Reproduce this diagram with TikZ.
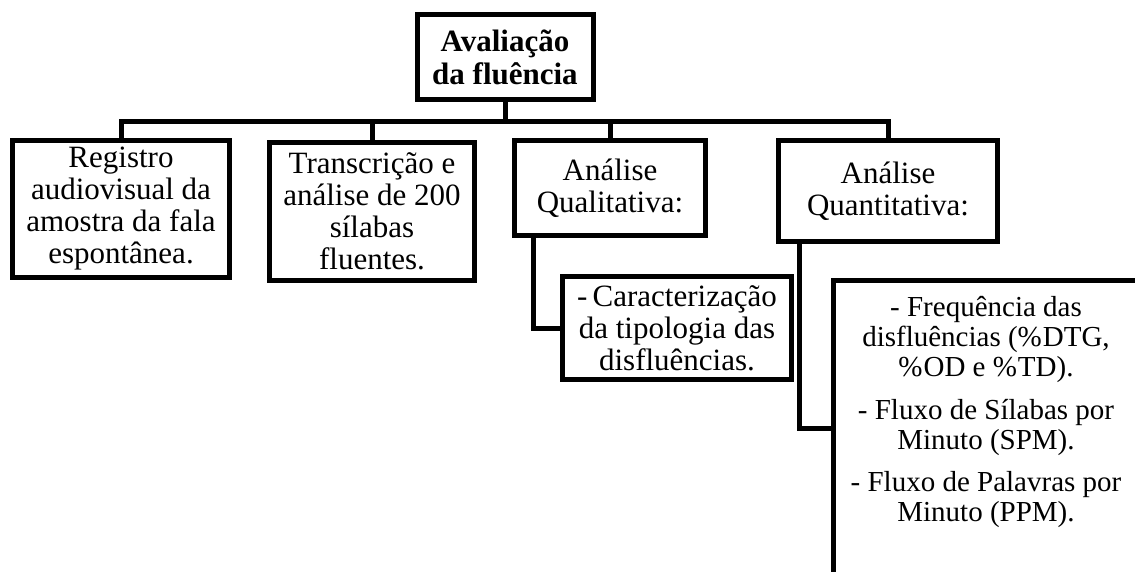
\documentclass[tikz,border=0pt]{standalone}
\usepackage{fontspec}
\setmainfont{Liberation Serif}
\begin{document}
\begin{tikzpicture}[x=1pt,y=-1pt,
  box/.style={draw, line width=5pt, fill=white, align=center, inner sep=0pt,
    font=\fontsize{31}{32}\selectfont},
  conn/.style={line width=5pt},
  small/.style={align=center, inner sep=0pt, font=\fontsize{29}{30}\selectfont}]
\useasboundingbox (0,0) rectangle (1135,572);
\clip (0,0) rectangle (1135,572);

\node[box, font=\fontsize{31}{33}\selectfont\bfseries, minimum width=176pt, minimum height=85pt] (top) at (505,57.5) {Avaliação\\da fluência};

\node[box, minimum width=217pt, minimum height=137pt] (b1) at (121,209) {Registro\\audiovisual da\\amostra da fala\\espontânea.};
\node[box, minimum width=205pt, minimum height=138pt] (b2) at (372,211.5) {Transcrição e\\análise de 200\\sílabas\\fluentes.};
\node[box, minimum width=191pt, minimum height=95pt] (b3) at (610,188) {Análise\\Qualitativa:};
\node[box, minimum width=219pt, minimum height=101pt] (b4) at (888,191) {Análise\\Quantitativa:};
\node[box, minimum width=229pt, minimum height=103pt] (b5) at (677,328) {-\,Caracterização\\da tipologia das\\disfluências.};
\node[box, minimum width=306pt, minimum height=296pt] (b6) at (986,428) {};
\node[small] (t6) at (986,412) {- Frequência das\\disfluências (\%\kern1pt DTG,\\\%\kern1pt OD e \%\kern1pt TD).\\[13pt]- Fluxo de Sílabas por\\Minuto (SPM).\\[12pt]- Fluxo de Palavras por\\Minuto (PPM).};

\coordinate (bus) at (505,122);
\draw[conn] (top.south) -- (bus);
\draw[conn] (bus) -| (b1.north);
\draw[conn] (bus) -| (b2.north);
\draw[conn] (bus) -| (b3.north);
\draw[conn] (bus) -| (b4.north);
\draw[conn] ([xshift=-77pt]b3.south) |- (b5.west);
\draw[conn] ([xshift=-89pt]b4.south) |- (b6.west);
\end{tikzpicture}
\end{document}
